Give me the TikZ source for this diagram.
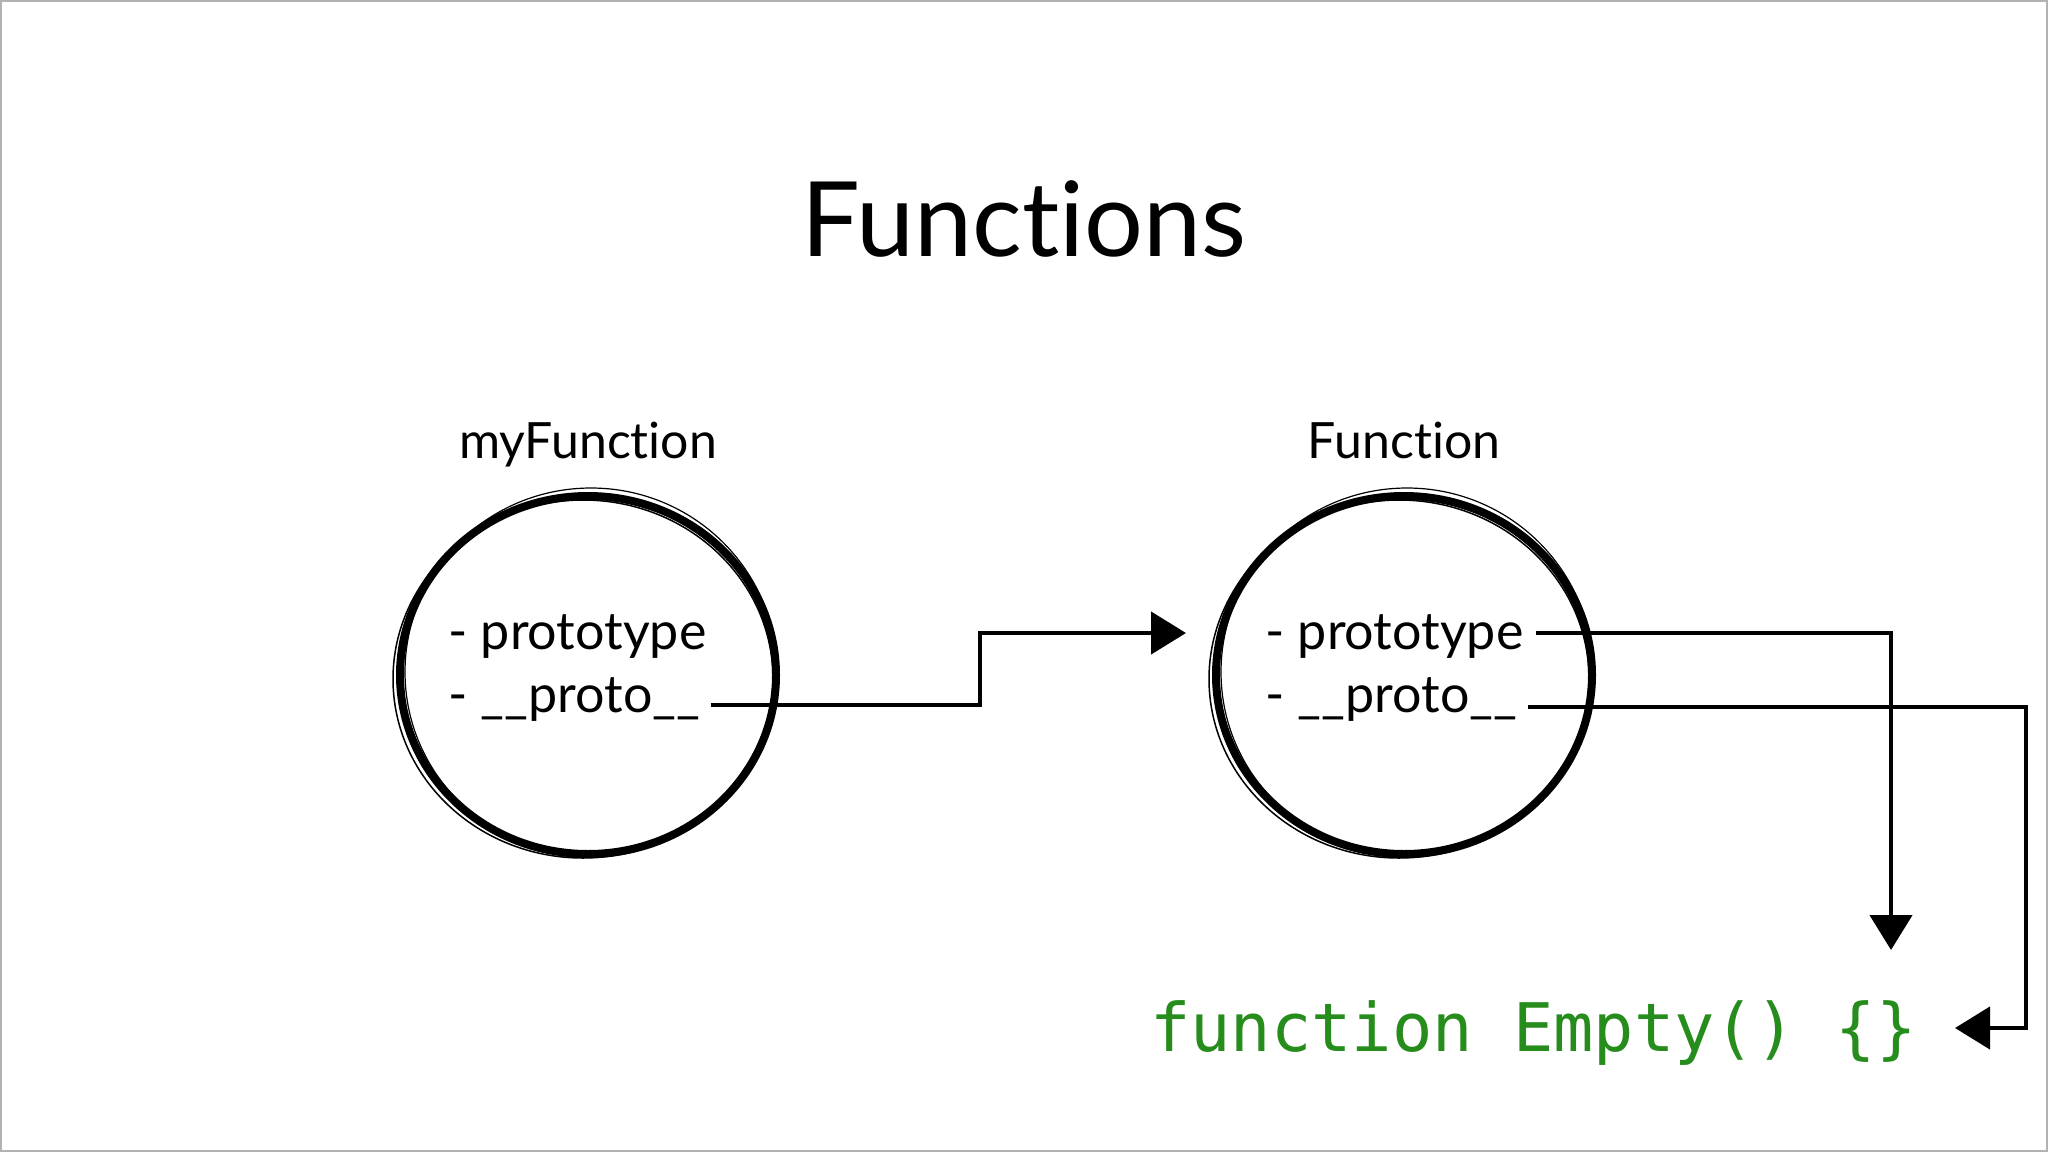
\documentclass[tikz,border=0pt]{standalone}
\usepackage{fontspec}
\setmainfont{Lato}[Ligatures=NoCommon]
\setmonofont{DejaVu Sans Mono}
\usepackage{tikz}
\usetikzlibrary{positioning,shapes.geometric,arrows.meta}
\definecolor{codegreen}{RGB}{38,140,28}

\begin{document}
\begin{tikzpicture}[x=1pt, y=-1pt,
	objcircle/.style={draw, ellipse, line width=8pt, minimum width=376pt, minimum height=358pt},
	objname/.style={anchor=base, inner sep=0pt, font=\fontsize{50}{60}\selectfont},
	slot/.style={anchor=base west, inner sep=0pt, font=\fontsize{52}{62}\selectfont},
	link/.style={line width=4.5pt, -{Triangle[length=35pt,width=42pt]}}]
	\useasboundingbox (0,0) rectangle (2048,1152);
	\draw[gray!60, line width=2pt] (1,1) rectangle (2047,1151);

	\node[anchor=base, inner sep=0pt, font=\fontsize{104}{120}\selectfont] (title) at (1024,256) {Functions};

	\node[objcircle] (myFn) at (588,675) {};
	\node[objcircle] (fn) at (1404,675) {};
	\foreach \c in {myFn, fn} {
		\draw[line width=1.5pt] ([shift={(-5,4)}]\c.center) ellipse [x radius=190, y radius=179];
		\draw[line width=1.2pt] ([shift={(3,-3)}]\c.center) ellipse [x radius=186, y radius=184];
	}
	\node[objname] (myFnName) at (588,458) {myFunction};
	\node[objname] (fnName) at (1404,458) {Function};

	\node[slot] (myPrototype) at (448,649) {- prototype};
	\node[slot] (myProto) at (448,712) {- \_\_proto\_\_};
	\node[slot] (fnPrototype) at (1265,649) {- prototype};
	\node[slot] (fnProto) at (1265,712) {- \_\_proto\_\_};

	\node[anchor=base west, inner sep=0pt, text=codegreen, font=\ttfamily\fontsize{67}{80}\selectfont] (empty) at (1150,1051) {function Empty() \{\}};

	\coordinate (step1) at (980,633);
	\coordinate (tip1) at (1186,633);
	\coordinate (tip2) at (1891,950);
	\coordinate (turn3) at (2026,1028);
	\coordinate (tip3) at (1955,1028);

	\draw[link] ([shift={(10,-7)}]myProto.base east) -| (step1) -- (tip1);
	\draw[link] ([shift={(12,-16)}]fnPrototype.base east) -| (tip2);
	\draw[link] ([shift={(10,-5)}]fnProto.base east) -| (turn3) -- (tip3);
\end{tikzpicture}
\end{document}
